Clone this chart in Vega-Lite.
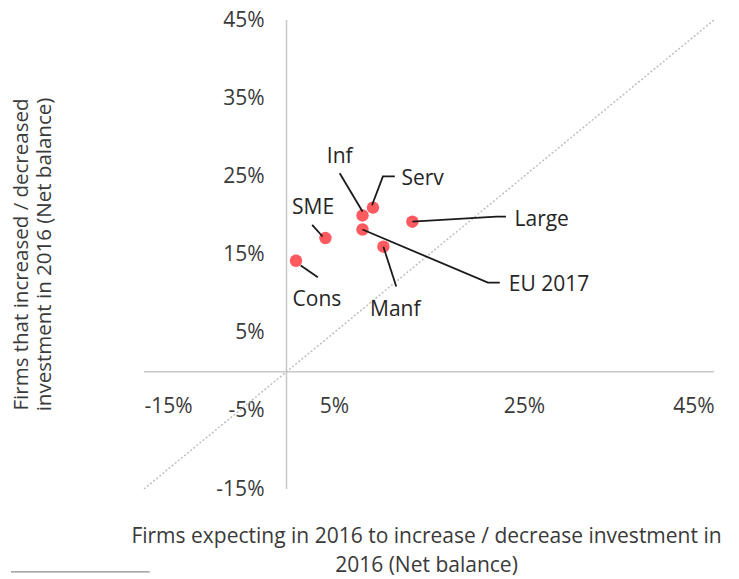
{
  "$schema": "https://vega.github.io/schema/vega-lite/v6.json",
  "width": 570,
  "height": 469,
  "autosize": {"type": "none"},
  "padding": {"left": 144, "top": 20, "right": 25, "bottom": 90},
  "background": "white",
  "config": {
    "view": {"stroke": null},
    "font": "Open Sans",
    "text": {"font": "Open Sans"}
  },
  "datasets": {
    "points": [
      {"name": "Cons", "x": 1.0, "y": 14.2},
      {"name": "SME", "x": 4.1, "y": 17.1},
      {"name": "Inf", "x": 8.0, "y": 20.0},
      {"name": "Serv", "x": 9.1, "y": 21.0},
      {"name": "EU 2017", "x": 8.0, "y": 18.2},
      {"name": "Manf", "x": 10.2, "y": 16.0},
      {"name": "Large", "x": 13.25, "y": 19.2}
    ],
    "leaders": [
      {"g": "Cons", "o": 1, "x": 1.5, "y": 13.6},
      {"g": "Cons", "o": 2, "x": 3.3, "y": 12.1},
      {"g": "SME", "o": 1, "x": 2.7, "y": 18.8},
      {"g": "SME", "o": 2, "x": 3.8, "y": 17.3},
      {"g": "Inf", "o": 1, "x": 5.6, "y": 25.4},
      {"g": "Inf", "o": 2, "x": 8.0, "y": 20.5},
      {"g": "Serv", "o": 1, "x": 11.4, "y": 25.0},
      {"g": "Serv", "o": 2, "x": 10.15, "y": 25.0},
      {"g": "Serv", "o": 3, "x": 9.0, "y": 21.3},
      {"g": "Large", "o": 1, "x": 13.25, "y": 19.2},
      {"g": "Large", "o": 2, "x": 22.1, "y": 19.85},
      {"g": "Large", "o": 3, "x": 23.1, "y": 19.85},
      {"g": "EU 2017", "o": 1, "x": 8.0, "y": 18.2},
      {"g": "EU 2017", "o": 2, "x": 21.2, "y": 11.4},
      {"g": "EU 2017", "o": 3, "x": 22.45, "y": 11.4},
      {"g": "Manf", "o": 1, "x": 10.2, "y": 16.0},
      {"g": "Manf", "o": 2, "x": 11.55, "y": 10.9}
    ],
    "labels": [
      {"name": "Inf", "x": 5.6, "y": 27.5, "side": "c"},
      {"name": "Serv", "x": 12.1, "y": 24.6, "side": "l"},
      {"name": "SME", "x": 2.8, "y": 20.9, "side": "c"},
      {"name": "Cons", "x": 3.2, "y": 9.2, "side": "c"},
      {"name": "Manf", "x": 11.45, "y": 7.9, "side": "c"},
      {"name": "Large", "x": 24.0, "y": 19.4, "side": "l"},
      {"name": "EU 2017", "x": 23.4, "y": 11.1, "side": "l"}
    ],
    "axislines": [
      {"x": 0, "y": -15, "x2": 0, "y2": 45},
      {"x": -15, "y": 0, "x2": 45, "y2": 0}
    ],
    "diag": [
      {"x": -15, "y": -15, "x2": 45, "y2": 45}
    ],
    "foot": [
      {"x": -29.0, "y": -25.6, "x2": -14.4, "y2": -25.6}
    ]
  },
  "encoding": {
    "x": {
      "type": "quantitative",
      "scale": {"domain": [-15, 45], "nice": false, "zero": false}
    },
    "y": {
      "type": "quantitative",
      "scale": {"domain": [-15, 45], "nice": false, "zero": false}
    }
  },
  "layer": [
    {
      "data": {"name": "axislines"},
      "mark": {"type": "rule", "color": "#c8c8c8", "strokeWidth": 1.5},
      "encoding": {
        "x": {
          "field": "x",
          "type": "quantitative",
          "scale": {"domain": [-15, 45], "nice": false, "zero": false},
          "axis": {
            "orient": "bottom",
            "offset": -117,
            "values": [-15, 5, 25, 45],
            "labelExpr": "datum.value + '%'",
            "domain": false,
            "ticks": false,
            "tickSize": 0,
            "grid": false,
            "labelPadding": 23,
            "labelFontSize": 21,
            "labelColor": "#3a3a3a",
            "labelFont": "Open Sans",
            "title": ["Firms expecting in 2016 to increase / decrease investment in", "2016 (Net balance)"],
            "titleFont": "Open Sans",
            "titleFontSize": 21,
            "titleFontWeight": "normal",
            "titleColor": "#3a3a3a",
            "titleLineHeight": 29,
            "titleBaseline": "top",
            "titleAlign": "center",
            "titleX": 282,
            "titleY": 153
          }
        },
        "y": {
          "field": "y",
          "type": "quantitative",
          "scale": {"domain": [-15, 45], "nice": false, "zero": false},
          "axis": {
            "orient": "left",
            "offset": -143,
            "values": [-15, -5, 5, 15, 25, 35, 45],
            "labelExpr": "datum.value + '%'",
            "domain": false,
            "ticks": false,
            "tickSize": 0,
            "grid": false,
            "labelPadding": 23,
            "labelFontSize": 21,
            "labelColor": "#3a3a3a",
            "labelFont": "Open Sans",
            "title": ["Firms that increased / decreased", "investment in 2016 (Net balance)"],
            "titleFont": "Open Sans",
            "titleFontSize": 20.5,
            "titleFontWeight": "normal",
            "titleColor": "#3a3a3a",
            "titleLineHeight": 23,
            "titleAngle": -90,
            "titleBaseline": "middle",
            "titleAlign": "center",
            "titleX": -266,
            "titleY": 234
          }
        },
        "x2": {"field": "x2"},
        "y2": {"field": "y2"}
      }
    },
    {
      "data": {"name": "diag"},
      "mark": {"type": "rule", "color": "#bfbfbf", "strokeWidth": 1.5, "strokeDash": [2, 2]},
      "encoding": {
        "x": {"field": "x", "type": "quantitative"},
        "y": {"field": "y", "type": "quantitative"},
        "x2": {"field": "x2"},
        "y2": {"field": "y2"}
      }
    },
    {
      "data": {"name": "foot"},
      "mark": {"type": "rule", "color": "#8c8c8c", "strokeWidth": 1.2, "clip": false},
      "encoding": {
        "x": {"field": "x", "type": "quantitative"},
        "y": {"field": "y", "type": "quantitative"},
        "x2": {"field": "x2"},
        "y2": {"field": "y2"}
      }
    },
    {
      "data": {"name": "points"},
      "mark": {"type": "circle", "size": 155, "color": "#FF5A5F", "opacity": 1},
      "encoding": {
        "x": {"field": "x", "type": "quantitative"},
        "y": {"field": "y", "type": "quantitative"}
      }
    },
    {
      "data": {"name": "leaders"},
      "mark": {"type": "line", "color": "#1a1a1a", "strokeWidth": 1.8},
      "encoding": {
        "x": {"field": "x", "type": "quantitative"},
        "y": {"field": "y", "type": "quantitative"},
        "detail": {"field": "g"},
        "order": {"field": "o", "type": "quantitative"}
      }
    },
    {
      "data": {"name": "labels"},
      "transform": [{"filter": "datum.side == 'c'"}],
      "mark": {"type": "text", "fontSize": 21, "color": "#262626", "baseline": "middle", "align": "center", "font": "Open Sans"},
      "encoding": {
        "x": {"field": "x", "type": "quantitative"},
        "y": {"field": "y", "type": "quantitative"},
        "text": {"field": "name"}
      }
    },
    {
      "data": {"name": "labels"},
      "transform": [{"filter": "datum.side == 'l'"}],
      "mark": {"type": "text", "fontSize": 21, "color": "#262626", "baseline": "middle", "align": "left", "font": "Open Sans"},
      "encoding": {
        "x": {"field": "x", "type": "quantitative"},
        "y": {"field": "y", "type": "quantitative"},
        "text": {"field": "name"}
      }
    }
  ]
}
